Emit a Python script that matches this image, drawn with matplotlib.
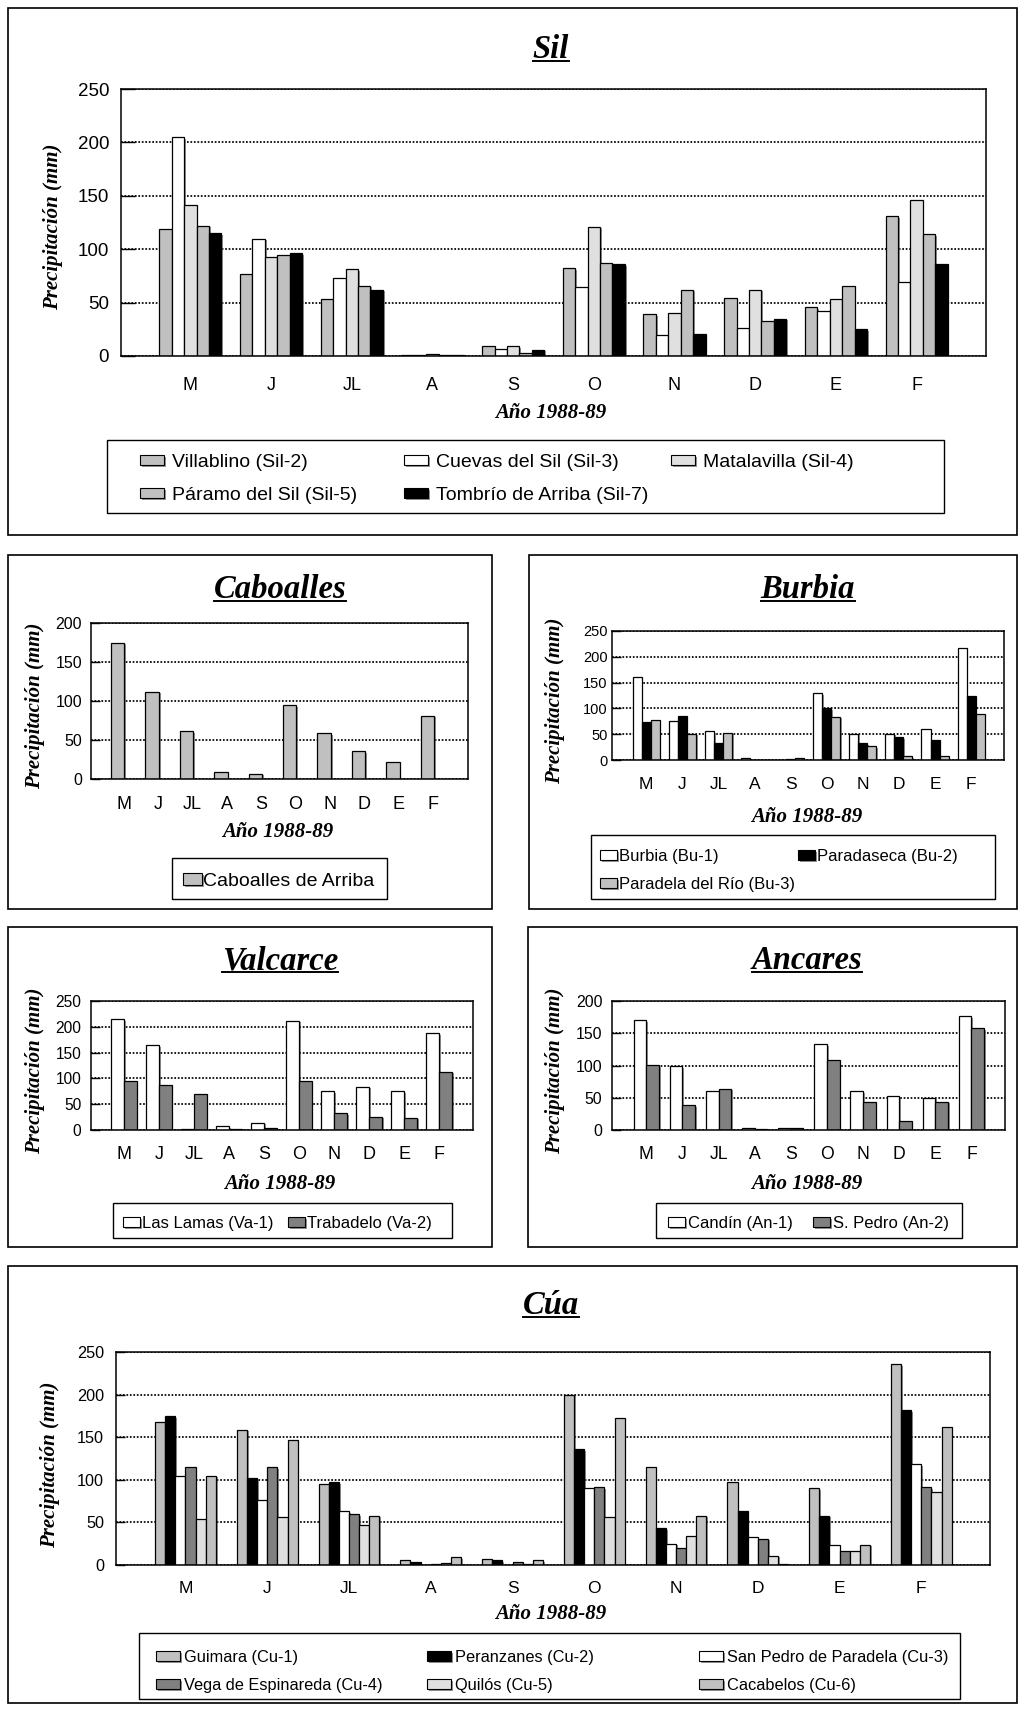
import numpy as np
import matplotlib
matplotlib.use('Agg')
import matplotlib.pyplot as plt
from matplotlib import patheffects
from matplotlib.patches import Rectangle
from matplotlib.lines import Line2D

plt.rcParams['font.family'] = ['Liberation Sans', 'DejaVu Sans']
SERIF = 'Liberation Serif'

months = ['M', 'J', 'JL', 'A', 'S', 'O', 'N', 'D', 'E', 'F']

# Sil
sil_names = ['Villablino (Sil-2)', 'Cuevas del Sil (Sil-3)', 'Matalavilla (Sil-4)',
             'Páramo del Sil (Sil-5)', 'Tombrío de Arriba (Sil-7)']
villablino = [119, 77, 53, 1, 9, 82, 39, 54, 46, 131]
cuevas_sil = [205, 110, 73, 1, 7, 65, 20, 26, 42, 69]
matalavilla = [141, 93, 81, 2, 9, 121, 40, 62, 53, 146]
paramo_sil = [122, 95, 66, 1, 3, 87, 62, 33, 66, 114]
tombrio = [115, 96, 62, 1, 6, 86, 21, 35, 25, 86]

# Caboalles
caboalles_names = ['Caboalles de Arriba']
caboalles = [175, 112, 61, 9, 7, 95, 59, 36, 22, 81]

# Burbia
burbia_names = ['Burbia (Bu-1)', 'Paradaseca (Bu-2)', 'Paradela del Río (Bu-3)']
burbia = [161, 76, 56, 4, 0, 130, 51, 51, 60, 218]
paradaseca = [73, 86, 32, 0, 1, 101, 32, 44, 38, 124]
paradela_rio = [77, 51, 53, 0, 4, 84, 27, 8, 8, 90]

# Valcarce
valcarce_names = ['Las Lamas (Va-1)', 'Trabadelo (Va-2)']
las_lamas = [215, 165, 1, 7, 14, 212, 75, 84, 75, 188]
trabadelo = [95, 87, 69, 1, 3, 95, 33, 26, 24, 113]

# Ancares
ancares_names = ['Candín (An-1)', 'S. Pedro (An-2)']
candin = [170, 99, 60, 3, 3, 133, 60, 52, 50, 177]
s_pedro = [101, 38, 64, 1, 3, 109, 44, 14, 44, 158]

# Cúa
cua_names = ['Guimara (Cu-1)', 'Peranzanes (Cu-2)', 'San Pedro de Paradela (Cu-3)',
             'Vega de Espinareda (Cu-4)', 'Quilós (Cu-5)', 'Cacabelos (Cu-6)']
guimara = [168, 159, 95, 6, 7, 200, 115, 97, 90, 236]
peranzanes = [175, 102, 97, 3, 6, 136, 43, 63, 58, 182]
sp_paradela = [105, 76, 63, 0, 0, 90, 25, 33, 24, 118]
vega_esp = [115, 115, 60, 1, 4, 91, 20, 31, 16, 91]
quilos = [54, 56, 47, 2, 1, 56, 34, 11, 16, 86]
cacabelos = [105, 147, 58, 9, 6, 173, 58, 1, 24, 162]

GRAY, LIGHT, DARK = '#c0c0c0', '#e0e0e0', '#808080'

W, H = 1019, 1711
fig = plt.figure(figsize=(W / 100, H / 100), dpi=100)

SHADOW = [patheffects.SimplePatchShadow(offset=(1.2, -1.2), shadow_rgbFace='0.3', alpha=0.6),
          patheffects.Normal()]


def fx(x):
    return x / W


def fy(y):
    return 1 - y / H


def frame(x0, y0, x1, y1, lw=1.2):
    fig.add_artist(Rectangle((fx(x0), fy(y1)), (x1 - x0) / W, (y1 - y0) / H,
                             transform=fig.transFigure, fill=False, ec='black', lw=lw))


def panel(box, series, colors, ytop, xlim, width, offset=0.0, ysize=11.5, xsize=12.5,
          ypad=7, xpad=11.5, ticklen=6.5):
    l, t, r, b = box
    ax = fig.add_axes([fx(l), fy(b), (r - l) / W, (b - t) / H])
    x = np.arange(len(months))
    n = len(series)
    for i, (vals, c) in enumerate(zip(series, colors)):
        pos = x + offset + (i - (n - 1) / 2) * width
        ax.bar(pos, vals, width, color=c, edgecolor='black', linewidth=0.9,
               path_effects=SHADOW, zorder=2)
    ax.set_xlim(*xlim)
    ax.set_ylim(0, ytop)
    ax.set_xticks(x, months)
    ax.set_yticks(np.arange(0, ytop + 1, 50))
    ax.yaxis.grid(True, color='black', linestyle=(0, (1, 1)), linewidth=1.25)
    ax.set_axisbelow(True)
    ax.tick_params(axis='x', length=0, pad=xpad, labelsize=xsize)
    ax.tick_params(axis='y', direction='in', length=ticklen, width=1, pad=ypad, labelsize=ysize)
    for s in ax.spines.values():
        s.set_linewidth(1.1)
    return ax


titles = []


def labels(title, tpos, xpos, ypos):
    t = fig.text(fx(tpos[0]), fy(tpos[1]), title, ha='center', va='baseline', family=SERIF,
                 weight='bold', style='italic', size=23.5)
    titles.append((t, tpos[1]))
    fig.text(fx(xpos[0]), fy(xpos[1]), 'Año 1988-89', ha='center', va='baseline',
             family=SERIF, weight='bold', style='italic', size=15)
    fig.text(fx(ypos[0]), fy(ypos[1]), 'Precipitación (mm)', ha='center', va='center',
             rotation=90, family=SERIF, weight='bold', style='italic', size=15)


def key(box, names, colors, cols, rows, hw, hh, gap, size):
    frame(*box, lw=1.0)
    cap = 0.716 * size * 100 / 72
    for k, (name, c) in enumerate(zip(names, colors)):
        cx = cols[k % len(cols)]
        cy = rows[k // len(cols)]
        fig.add_artist(Rectangle((fx(cx), fy(cy + hh / 2)), hw / W, hh / H,
                                 transform=fig.transFigure, fc=c, ec='black', lw=0.8,
                                 path_effects=SHADOW))
        fig.text(fx(cx + hw + gap), fy(cy + cap / 2), name, ha='left', va='baseline', size=size)


# Sil
frame(8, 8, 1017, 535)
sil_colors = [GRAY, 'white', LIGHT, GRAY, 'black']
panel((121, 89, 986, 356), [villablino, cuevas_sil, matalavilla, paramo_sil, tombrio],
      sil_colors, 250, (-0.86, 9.86), 0.154, ysize=13.5, xsize=13, ypad=8.6, xpad=15, ticklen=10)
labels('Sil', (551, 58), (551, 418.5), (53, 227))
key((107, 440, 944, 513), sil_names, sil_colors, [140, 404, 671], [460, 493], 24, 10, 8, 14)

# Caboalles
frame(8, 555, 492, 909)
panel((91, 623, 468, 779), [caboalles], [GRAY], 200, (-0.947, 10.01), 0.39, offset=-0.17,
      ysize=11.5, xsize=13, ypad=6.3, xpad=12)
labels('Caboalles', (280, 598), (278, 836.7), (35, 706))
key((172, 858, 387, 899), caboalles_names, [GRAY], [183], [879], 19, 12, 1, 14)

# Burbia
frame(529, 555, 1017, 909)
burbia_colors = ['white', 'black', GRAY]
panel((612, 631, 1004, 760), [burbia, paradaseca, paradela_rio], burbia_colors, 250,
      (-0.947, 9.91), 0.25, ysize=10.5, xsize=12.5, ypad=3, xpad=12)
labels('Burbia', (808, 598), (807, 821.7), (555, 701))
key((591, 835, 995, 899), burbia_names, burbia_colors, [600, 798], [855, 883], 17, 10, 2, 12)

# Valcarce
frame(8, 927, 492, 1247)
valcarce_colors = ['white', DARK]
panel((91, 1001, 473, 1130), [las_lamas, trabadelo], valcarce_colors, 250, (-0.94, 9.97), 0.367,
      ysize=11.2, xsize=13, ypad=7, xpad=11.3)
labels('Valcarce', (280, 969), (280, 1189.3), (35, 1071))
key((113, 1203, 452, 1238), valcarce_names, valcarce_colors, [123, 288], [1222], 17, 10, 2, 12)

# Ancares
frame(528, 927, 1017, 1247)
ancares_colors = ['white', DARK]
panel((612, 1001, 1005, 1130), [candin, s_pedro], ancares_colors, 200, (-0.95, 9.93), 0.35,
      ysize=11.4, xsize=12.7, ypad=7, xpad=11.5)
labels('Ancares', (807, 969), (807, 1189.3), (555, 1071))
key((656, 1203, 962, 1238), ancares_names, ancares_colors, [668, 813], [1222], 17, 10, 3, 12)

# Cúa
frame(8, 1266, 1017, 1703)
cua_colors = [GRAY, 'black', 'white', DARK, LIGHT, GRAY]
panel((116, 1352, 990, 1565), [guimara, peranzanes, sp_paradela, vega_esp, quilos, cacabelos],
      cua_colors, 250, (-0.85, 9.84), 0.124, ysize=11.7, xsize=12.5, ypad=8.7, xpad=11.3)
labels('Cúa', (551, 1314), (551, 1619), (50, 1465))
key((139, 1633, 960, 1699), cua_names, cua_colors, [156, 427, 699], [1656, 1684], 24, 10, 4, 11.8)

# underline the panel titles
fig.canvas.draw()
renderer = fig.canvas.get_renderer()
for t, base in titles:
    bb = t.get_window_extent(renderer)
    fig.add_artist(Line2D([bb.x0 / W, bb.x1 / W], [fy(base + 2.5)] * 2,
                          transform=fig.transFigure, color='black', lw=1.4))

fig.savefig('out.png', dpi=100, facecolor='white')
